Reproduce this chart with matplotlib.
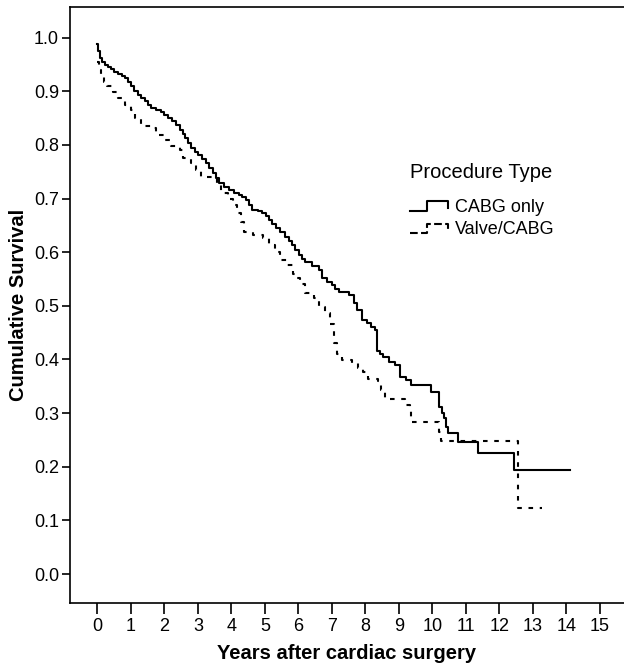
import numpy as np
import matplotlib
matplotlib.use("Agg")
import matplotlib.pyplot as plt
from matplotlib.lines import Line2D
from matplotlib.legend_handler import HandlerBase

plt.rcParams['font.family'] = ['Liberation Sans', 'DejaVu Sans']

# Kaplan-Meier steps (time in years, survival after the step)
cabg_t = [0.00, 0.03, 0.07, 0.15, 0.22, 0.30, 0.40, 0.50, 0.60, 0.72, 0.82, 0.90,
          1.00, 1.10, 1.21, 1.30, 1.41, 1.50, 1.61, 1.75, 1.91, 2.00, 2.10, 2.22,
          2.35, 2.45, 2.55, 2.62, 2.70, 2.80, 2.90, 3.00, 3.12, 3.24, 3.34, 3.44,
          3.54, 3.64, 3.78, 3.93, 4.08, 4.23, 4.33, 4.43, 4.52, 4.62, 4.78, 4.92,
          5.02, 5.12, 5.22, 5.32, 5.45, 5.61, 5.71, 5.81, 5.91, 6.01, 6.10, 6.21,
          6.40, 6.60, 6.70, 6.85, 7.00, 7.10, 7.20, 7.50, 7.65, 7.74, 7.89, 8.05,
          8.18, 8.30, 8.36, 8.45, 8.53, 8.70, 8.88, 9.03, 9.22, 9.37, 9.96, 10.21,
          10.30, 10.36, 10.42, 10.46, 10.76, 11.35, 12.43, 14.10]
cabg_s = [0.988, 0.975, 0.962, 0.955, 0.949, 0.945, 0.941, 0.936, 0.932, 0.928, 0.924, 0.917,
          0.909, 0.901, 0.893, 0.887, 0.881, 0.874, 0.868, 0.865, 0.862, 0.856, 0.850, 0.844,
          0.837, 0.828, 0.820, 0.812, 0.804, 0.794, 0.787, 0.781, 0.774, 0.766, 0.757, 0.747,
          0.738, 0.729, 0.722, 0.716, 0.711, 0.707, 0.702, 0.697, 0.688, 0.679, 0.676, 0.673,
          0.667, 0.660, 0.652, 0.645, 0.637, 0.629, 0.621, 0.613, 0.604, 0.595, 0.588, 0.582,
          0.575, 0.567, 0.551, 0.545, 0.539, 0.531, 0.525, 0.520, 0.505, 0.492, 0.474, 0.468,
          0.461, 0.455, 0.415, 0.410, 0.405, 0.396, 0.390, 0.368, 0.362, 0.352, 0.340, 0.312,
          0.300, 0.290, 0.275, 0.262, 0.247, 0.226, 0.194, 0.194]

valve_t = [0.00, 0.05, 0.12, 0.20, 0.27, 0.45, 0.62, 0.82, 1.00, 1.11, 1.31, 1.60,
           1.75, 2.00, 2.20, 2.45, 2.55, 2.80, 2.95, 3.10, 3.45, 3.58, 3.69, 3.90,
           4.05, 4.18, 4.28, 4.38, 4.65, 4.95, 5.12, 5.30, 5.45, 5.65, 5.85, 5.91,
           6.05, 6.21, 6.45, 6.60, 6.80, 6.95, 7.05, 7.15, 7.29, 7.59, 7.79, 7.94,
           8.09, 8.38, 8.48, 8.58, 9.18, 9.32, 9.37, 10.21, 10.26, 12.56, 13.26]
valve_s = [0.955, 0.940, 0.927, 0.918, 0.910, 0.899, 0.887, 0.875, 0.865, 0.850, 0.835, 0.831,
           0.819, 0.809, 0.797, 0.791, 0.775, 0.766, 0.753, 0.741, 0.736, 0.725, 0.710, 0.700,
           0.688, 0.673, 0.657, 0.638, 0.632, 0.626, 0.613, 0.601, 0.585, 0.576, 0.560, 0.551,
           0.540, 0.523, 0.514, 0.498, 0.486, 0.467, 0.430, 0.411, 0.399, 0.393, 0.384, 0.377,
           0.363, 0.359, 0.343, 0.326, 0.315, 0.305, 0.284, 0.265, 0.248, 0.124, 0.124]

groups = ["CABG only", "Valve/CABG"]
x_ticks = list(range(0, 16))
y_ticks = [0.0, 0.1, 0.2, 0.3, 0.4, 0.5, 0.6, 0.7, 0.8, 0.9, 1.0]

dash = (0, (2.2, 3.2))


class StepHandler(HandlerBase):
    def create_artists(self, legend, orig_handle, xdescent, ydescent, width, height, fontsize, trans):
        xs = np.array([0.0, 0.42, 0.42, 0.95, 0.95]) * width - xdescent
        ys = np.array([0.1, 0.1, 0.85, 0.85, 0.35]) * height - ydescent
        ln = Line2D(xs, ys, color=orig_handle.get_color(), lw=orig_handle.get_linewidth(),
                    linestyle=orig_handle.get_linestyle())
        ln.set_transform(trans)
        return [ln]


fig = plt.figure(figsize=(6.24, 6.68), dpi=100)
ax = fig.add_axes([70 / 624, 1 - 603 / 668, 1 - 70 / 624, (603 - 7) / 668])

l1, = ax.step(cabg_t, cabg_s, where="post", color="black", lw=1.5)
l2, = ax.step(valve_t, valve_s, where="post", color="black", lw=1.5, linestyle=dash)

ax.set_xlim(-0.82, 15.72)
ax.set_ylim(-0.054, 1.057)
ax.set_xticks(x_ticks)
ax.set_yticks(y_ticks)
ax.set_yticklabels([f"{v:.1f}" for v in y_ticks])
ax.tick_params(axis="x", direction="out", length=8, width=1.2, labelsize=13, pad=3)
ax.tick_params(axis="y", direction="out", length=6, width=1.2, labelsize=13, pad=2)
for s in ["left", "bottom", "top"]:
    ax.spines[s].set_linewidth(1.2)
ax.spines["right"].set_visible(False)

ax.set_xlabel("Years after cardiac surgery", fontsize=14.5, fontweight="bold", labelpad=6)
ax.set_ylabel("Cumulative Survival", fontsize=14.5, fontweight="bold", labelpad=4)

ax.text((410 - 70) / 554, 1 - (172 - 7) / 596, "Procedure Type", transform=ax.transAxes,
        fontsize=14.5, ha="left", va="center")
leg = ax.legend([l1, l2], groups, loc="upper left",
                bbox_to_anchor=((410 - 70) / 554, 1 - (199 - 7) / 596), frameon=False,
                fontsize=13, handlelength=2.2, handletextpad=0.3,
                labelspacing=0.3, borderpad=0, borderaxespad=0,
                handler_map={Line2D: StepHandler()})

fig.savefig("out.png", dpi=100)
